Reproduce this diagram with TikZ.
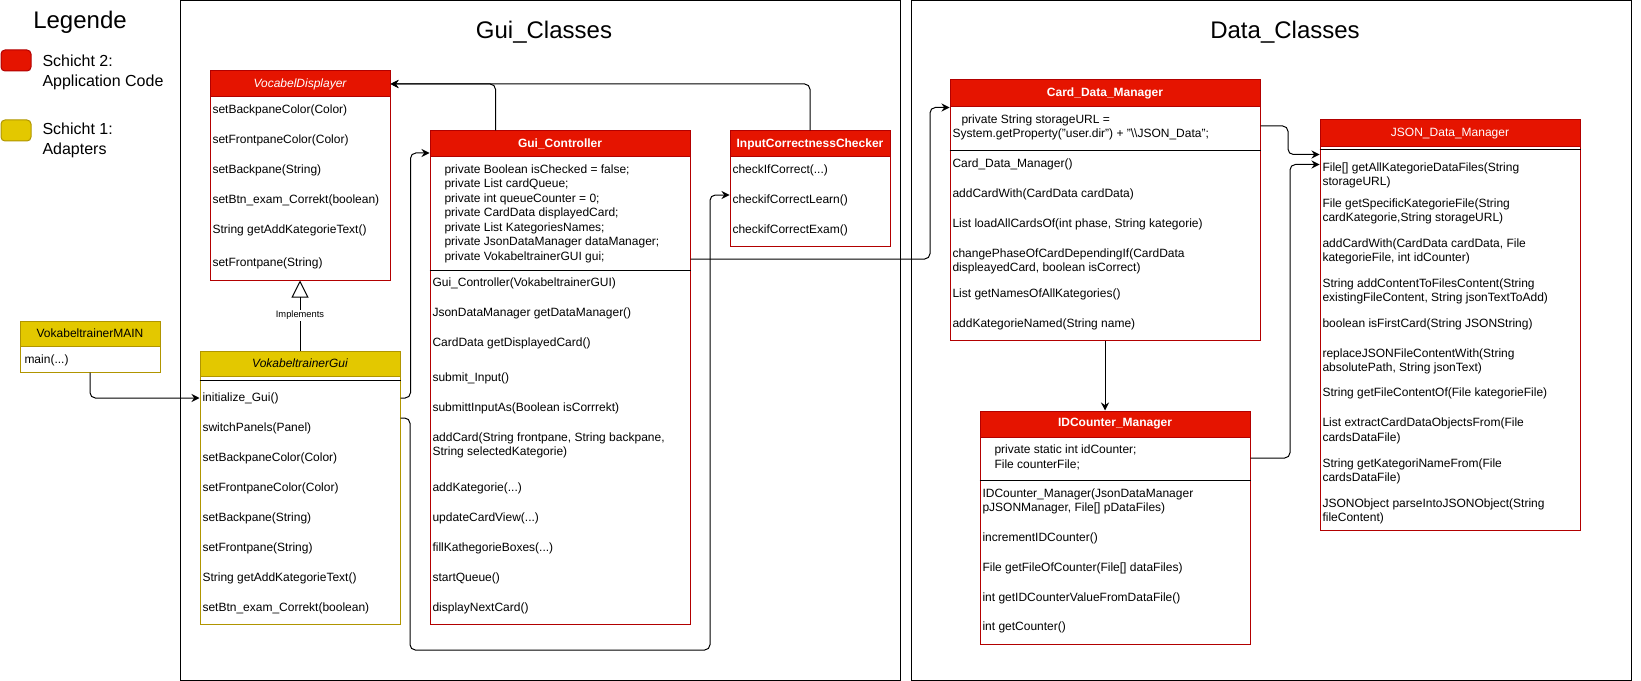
\documentclass[tikz,border=0pt]{standalone}
\usepackage{fontspec}
\setmainfont{Liberation Sans}
\usepackage{xcolor}
\usepackage{tikz}
\usetikzlibrary{fit,arrows.meta}

\definecolor{redfill}{HTML}{E51400}
\definecolor{redline}{HTML}{B20000}
\definecolor{yelfill}{HTML}{E3C800}
\definecolor{yelline}{HTML}{B09500}
\newcommand{\tdots}{...}

\begin{document}
\begin{tikzpicture}[x=0.75pt,y=-0.75pt,line width=0.75pt,
	font=\fontsize{9}{10.8}\selectfont,
	head/.style={draw=#1line,fill=#1fill,inner sep=0pt},
	body/.style={draw=#1line,fill=white,inner sep=0pt},
	row/.style={anchor=west,inner sep=0pt,align=left},
	arr/.style={-{Stealth[length=6pt,width=6pt,inset=2pt]},rounded corners=4pt}]
	\useasboundingbox (0,0) rectangle (1641,681);
	% legend
	\node[font=\fontsize{18}{21}\selectfont] (leg) at (80,22) {Legende};
	\draw[redline,fill=redfill,rounded corners=3pt] (1,50) rectangle (31,71);
	\node[row,font=\fontsize{12}{15}\selectfont] (leg2) at (42,72) {Schicht 2:\\Application Code};
	\draw[yelline,fill=yelfill,rounded corners=3pt] (1,120) rectangle (31,141);
	\node[row,font=\fontsize{12}{15}\selectfont] (leg1) at (42,140) {Schicht 1:\\Adapters};
	% packages
	\draw (180,1) rectangle (900,680);
	\node[font=\fontsize{18}{21}\selectfont] (guipkg) at (544,32) {Gui\_Classes};
	\draw (911,1) rectangle (1631,680);
	\node[font=\fontsize{18}{21}\selectfont] (datapkg) at (1285,32) {Data\_Classes};
	% VocabelDisplayer
	\node[body=red,fit={(210,71) (390,280)}] (vd) {};
	\node[head=red,fit={(210,71) (390,97)}] (vd-h) {};
	\node[text=white] (vd-t) at (vd-h) {\itshape VocabelDisplayer};
	\foreach \y/\t [count=\i] in {110/setBackpaneColor(Color), 140/setFrontpaneColor(Color),
		170/setBackpane(String), 200/setBtn\_exam\_Correkt(boolean),
		230/String getAddKategorieText(), 263/setFrontpane(String)}
		\node[row] (vd-\i) at (212,\y) {\t};
	% VokabeltrainerMAIN
	\node[body=yel,fit={(20,321) (160,372)}] (main) {};
	\node[head=yel,fit={(20,321) (160,346)}] (main-h) {};
	\node (main-t) at (main-h) {VokabeltrainerMAIN};
	\node[row] (main-1) at (24,360) {main(...)};
	% VokabeltrainerGui
	\node[body=yel,fit={(200,351) (400,624)}] (gui) {};
	\node[head=yel,fit={(200,351) (400,376)}] (gui-h) {};
	\node (gui-t) at (gui-h) {\itshape VokabeltrainerGui};
	\draw (gui.west |- 0,380) -- (gui.east |- 0,380);
	\foreach \t [count=\i] in {initialize\_Gui(), switchPanels(Panel), setBackpaneColor(Color),
		setFrontpaneColor(Color), setBackpane(String), setFrontpane(String),
		String getAddKategorieText(), setBtn\_exam\_Correkt(boolean)}
		\node[row] (gui-\i) at (202,368+30*\i) {\t};
	% Gui_Controller
	\node[body=red,fit={(430,131) (690,624)}] (ctrl) {};
	\node[head=red,fit={(430,131) (690,157)}] (ctrl-h) {};
	\node[text=white] (ctrl-t) at (ctrl-h) {\bfseries Gui\_Controller};
	\node[row,font=\fontsize{9}{10.875}\selectfont] (ctrl-a) at (444,213.5)
		{private Boolean isChecked = false;\\private List cardQueue;\\private int queueCounter = 0;\\
		private CardData displayedCard;\\private List KategoriesNames;\\
		private JsonDataManager dataManager;\\private VokabeltrainerGUI gui;};
	\draw (ctrl.west |- 0,270) -- (ctrl.east |- 0,270);
	\foreach \y/\t [count=\i] in {283/Gui\_Controller(VokabeltrainerGUI), 313/JsonDataManager getDataManager(),
		343/CardData getDisplayedCard(), 378/submit\_Input(), 408/submittInputAs(Boolean isCorrrekt),
		445.5/{addCard(String frontpane, String backpane,\\String selectedKategorie)},
		488/addKategorie(\tdots), 518/updateCardView(\tdots), 548/fillKathegorieBoxes(\tdots),
		578/startQueue(), 608/displayNextCard()}
		\node[row] (ctrl-\i) at (432,\y) {\t};
	% InputCorrectnessChecker
	\node[body=red,fit={(730,131) (890,246)}] (icc) {};
	\node[head=red,fit={(730,131) (890,157)}] (icc-h) {};
	\node[text=white] (icc-t) at (icc-h) {\bfseries InputCorrectnessChecker};
	\foreach \t [count=\i] in {checkIfCorrect(\tdots), checkifCorrectLearn(), checkifCorrectExam()}
		\node[row] (icc-\i) at (732,140+30*\i) {\t};
	% Card_Data_Manager
	\node[body=red,fit={(950,80) (1260,340)}] (cdm) {};
	\node[head=red,fit={(950,80) (1260,107)}] (cdm-h) {};
	\node[text=white] (cdm-t) at (cdm-h) {\bfseries Card\_Data\_Manager};
	\node[row] (cdm-a) at (952,127.5)
		{\hspace*{6.75pt}private String storageURL =\\System.getProperty("user.dir") + "\textbackslash\textbackslash JSON\_Data";};
	\draw (cdm.west |- 0,151) -- (cdm.east |- 0,151);
	\foreach \y/\t [count=\i] in {164/Card\_Data\_Manager(), 194/addCardWith(CardData cardData),
		224/{List loadAllCardsOf(int phase, String kategorie)},
		261.5/{changePhaseOfCardDependingIf(CardData\\displeayedCard, boolean isCorrect)},
		294/List getNamesOfAllKategories(), 324/addKategorieNamed(String name)}
		\node[row] (cdm-\i) at (952,\y) {\t};
	% IDCounter_Manager
	\node[body=red,fit={(980,411) (1250,644)}] (idc) {};
	\node[head=red,fit={(980,411) (1250,437)}] (idc-h) {};
	\node[text=white] (idc-t) at (idc-h) {\bfseries IDCounter\_Manager};
	\node[row] (idc-a) at (994,457.5) {private static int idCounter;\\File counterFile;};
	\draw (idc.west |- 0,480) -- (idc.east |- 0,480);
	\foreach \y/\t [count=\i] in {501.5/{IDCounter\_Manager(JsonDataManager\\pJSONManager, File[] pDataFiles)},
		538/incrementIDCounter(), 568/File getFileOfCounter(File[] dataFiles),
		598/int getIDCounterValueFromDataFile(), 627/int getCounter()}
		\node[row] (idc-\i) at (982,\y) {\t};
	% JSON_Data_Manager
	\node[body=red,fit={(1320,120) (1580,530)}] (json) {};
	\node[head=red,fit={(1320,120) (1580,147)}] (json-h) {};
	\node[text=white] (json-t) at (json-h) {JSON\_Data\_Manager};
	\draw (json.west |- 0,150) -- (json.east |- 0,150);
	\foreach \y/\t [count=\i] in {175.5/{File[] getAllKategorieDataFiles(String\\storageURL)},
		211.5/{File getSpecificKategorieFile(String\\cardKategorie,String storageURL)},
		251.5/{addCardWith(CardData cardData, File\\kategorieFile, int idCounter)},
		291.5/{String addContentToFilesContent(String\\existingFileContent, String jsonTextToAdd)},
		324/boolean isFirstCard(String JSONString),
		361.5/{replaceJSONFileContentWith(String\\absolutePath, String jsonText)},
		393/String getFileContentOf(File kategorieFile),
		431/{List extractCardDataObjectsFrom(File\\cardsDataFile)},
		471.5/{String getKategoriNameFrom(File\\cardsDataFile)},
		511.5/{JSONObject parseIntoJSONObject(String\\fileContent)}}
		\node[row] (json-\i) at (1322,\y) {\t};
	% connectors
	\draw[-{Triangle[open,length=12.75pt,width=12.75pt]}] (gui-h.north) -- (vd.south)
		node[midway,fill=white,inner sep=1pt,font=\fontsize{7}{8}\selectfont] (impl) {Implements};
	\draw[arr] (main.south) |- (gui.west |- gui-1);
	\draw[arr] (gui.east |- gui-1) -- ++(10,0) |- ([yshift=-6.75pt]ctrl-h.west);
	\draw[arr] (gui.east |- 0,418) -- (410,418) -- (410,650) -- (710,650) |- (icc.west |- 0,195);
	\draw[arr] ([xshift=49.5pt]ctrl-h.north west) |- (vd-h.east);
	\draw[arr] (icc-h.north) |- (vd-h.east);
	\draw[arr] (ctrl.east |- 0,259) -| (930,200) |- (cdm-h.south west);
	\draw[arr] (cdm.east |- 0,126) -| (1288,140) |- ([yshift=-5.25pt]json-h.south west);
	\draw[arr] (cdm.south) -- (cdm.south |- idc-h.north);
	\draw[arr] (idc.east |- 0,458) -| (1290,300) |- ([yshift=-12.75pt]json-h.south west);
\end{tikzpicture}
\end{document}
